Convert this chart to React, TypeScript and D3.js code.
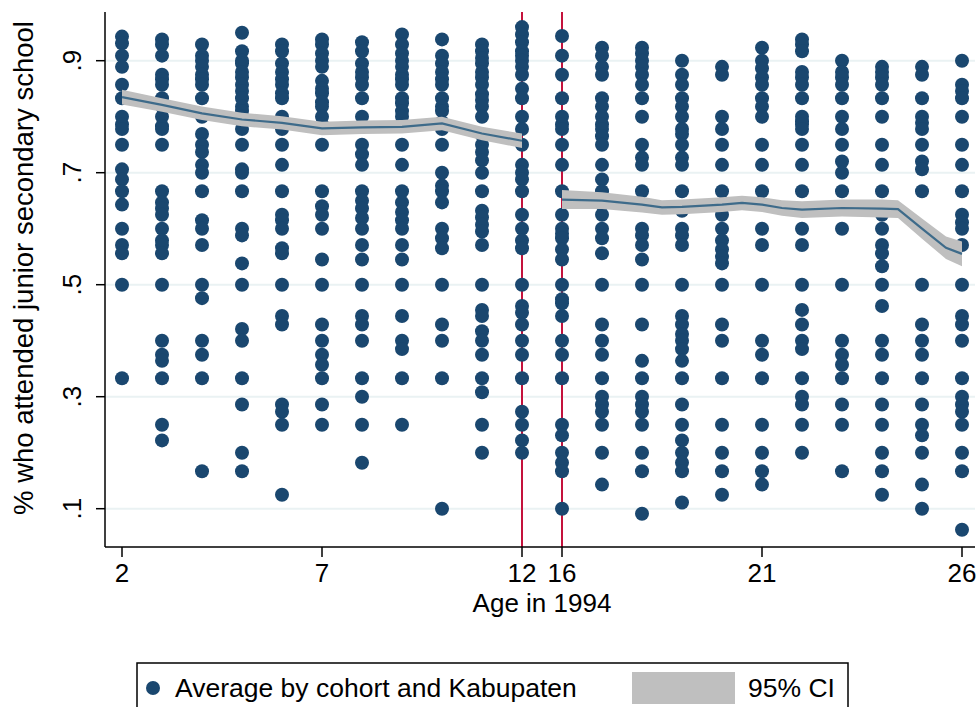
import React from "react";
import * as d3 from "d3";

// ---- Data ----
const ages: number[] = [2, 3, 4, 5, 6, 7, 8, 9, 10, 11, 12, 16, 17, 18, 19, 20, 21, 22, 23, 24, 25, 26];

const c2 = [0.943, 0.931, 0.909, 0.889, 0.857, 0.833, 0.8, 0.786, 0.778, 0.75, 0.706, 0.688, 0.667, 0.643, 0.6, 0.571, 0.556, 0.5, 0.333];
const c3 = [0.938, 0.929, 0.909, 0.875, 0.867, 0.857, 0.833, 0.818, 0.8, 0.783, 0.778, 0.75, 0.667, 0.647, 0.636, 0.625, 0.6, 0.579, 0.571, 0.556, 0.5, 0.4, 0.375, 0.364, 0.333, 0.25, 0.222];
const c4 = [0.929, 0.909, 0.9, 0.889, 0.875, 0.867, 0.857, 0.833, 0.8, 0.769, 0.75, 0.737, 0.714, 0.7, 0.667, 0.615, 0.6, 0.571, 0.5, 0.476, 0.4, 0.375, 0.333, 0.167];
const c5 = [0.95, 0.917, 0.9, 0.895, 0.88, 0.87, 0.857, 0.846, 0.833, 0.818, 0.81, 0.8, 0.778, 0.75, 0.706, 0.7, 0.667, 0.6, 0.588, 0.538, 0.5, 0.421, 0.4, 0.333, 0.286, 0.2, 0.167];
const c6 = [0.929, 0.917, 0.895, 0.88, 0.867, 0.857, 0.842, 0.833, 0.8, 0.789, 0.778, 0.75, 0.714, 0.667, 0.625, 0.615, 0.6, 0.565, 0.556, 0.5, 0.444, 0.429, 0.286, 0.273, 0.25, 0.125];
const c7 = [0.938, 0.929, 0.913, 0.9, 0.889, 0.864, 0.85, 0.842, 0.826, 0.818, 0.8, 0.786, 0.75, 0.667, 0.64, 0.625, 0.6, 0.545, 0.5, 0.429, 0.4, 0.375, 0.357, 0.333, 0.286, 0.25];
const c8 = [0.933, 0.917, 0.895, 0.88, 0.87, 0.857, 0.833, 0.8, 0.75, 0.733, 0.714, 0.667, 0.65, 0.636, 0.619, 0.6, 0.571, 0.545, 0.5, 0.444, 0.429, 0.4, 0.333, 0.3, 0.25, 0.182];
const c9 = [0.947, 0.929, 0.913, 0.9, 0.889, 0.875, 0.867, 0.857, 0.833, 0.824, 0.81, 0.8, 0.786, 0.75, 0.714, 0.667, 0.647, 0.63, 0.615, 0.6, 0.571, 0.545, 0.5, 0.444, 0.4, 0.385, 0.333, 0.25];
const c10 = [0.938, 0.909, 0.895, 0.88, 0.867, 0.857, 0.833, 0.818, 0.81, 0.79, 0.778, 0.75, 0.7, 0.677, 0.667, 0.647, 0.6, 0.583, 0.565, 0.5, 0.429, 0.4, 0.333, 0.1];
const c11 = [0.929, 0.917, 0.905, 0.895, 0.88, 0.87, 0.857, 0.84, 0.83, 0.818, 0.8, 0.767, 0.75, 0.737, 0.722, 0.7, 0.667, 0.632, 0.62, 0.607, 0.595, 0.571, 0.5, 0.455, 0.444, 0.417, 0.4, 0.375, 0.333, 0.308, 0.25, 0.2];
const c12 = [0.96, 0.947, 0.933, 0.917, 0.909, 0.9, 0.889, 0.875, 0.85, 0.833, 0.8, 0.778, 0.75, 0.714, 0.7, 0.688, 0.667, 0.625, 0.6, 0.579, 0.565, 0.5, 0.462, 0.45, 0.429, 0.4, 0.375, 0.333, 0.273, 0.25, 0.222, 0.2];
const c16 = [0.944, 0.909, 0.875, 0.833, 0.8, 0.786, 0.778, 0.75, 0.714, 0.667, 0.625, 0.6, 0.591, 0.583, 0.563, 0.545, 0.5, 0.474, 0.467, 0.444, 0.4, 0.375, 0.333, 0.25, 0.231, 0.2, 0.182, 0.167, 0.1];
const c17 = [0.923, 0.909, 0.889, 0.875, 0.833, 0.818, 0.8, 0.786, 0.778, 0.765, 0.75, 0.714, 0.688, 0.667, 0.643, 0.625, 0.6, 0.583, 0.556, 0.5, 0.429, 0.4, 0.375, 0.333, 0.3, 0.286, 0.273, 0.25, 0.2, 0.143];
const c18 = [0.923, 0.913, 0.9, 0.889, 0.875, 0.857, 0.833, 0.8, 0.75, 0.727, 0.714, 0.667, 0.6, 0.588, 0.571, 0.545, 0.5, 0.429, 0.364, 0.333, 0.3, 0.286, 0.273, 0.25, 0.2, 0.167, 0.091];
const c19 = [0.9, 0.875, 0.857, 0.833, 0.818, 0.8, 0.778, 0.769, 0.75, 0.727, 0.714, 0.667, 0.632, 0.6, 0.588, 0.571, 0.5, 0.444, 0.429, 0.412, 0.4, 0.385, 0.364, 0.333, 0.286, 0.25, 0.222, 0.2, 0.182, 0.167, 0.111];
const c20 = [0.889, 0.875, 0.8, 0.778, 0.75, 0.714, 0.667, 0.64, 0.625, 0.6, 0.579, 0.563, 0.55, 0.538, 0.5, 0.429, 0.4, 0.333, 0.25, 0.2, 0.167, 0.125];
const c21 = [0.923, 0.9, 0.886, 0.87, 0.857, 0.833, 0.818, 0.8, 0.75, 0.714, 0.667, 0.6, 0.571, 0.5, 0.4, 0.375, 0.333, 0.25, 0.2, 0.167, 0.143];
const c22 = [0.938, 0.929, 0.917, 0.88, 0.87, 0.857, 0.833, 0.8, 0.792, 0.786, 0.778, 0.75, 0.714, 0.667, 0.6, 0.571, 0.5, 0.455, 0.429, 0.4, 0.385, 0.333, 0.3, 0.286, 0.25, 0.2];
const c23 = [0.9, 0.88, 0.87, 0.857, 0.833, 0.8, 0.778, 0.75, 0.72, 0.7, 0.667, 0.6, 0.5, 0.4, 0.375, 0.357, 0.333, 0.286, 0.25, 0.167];
const c24 = [0.889, 0.88, 0.87, 0.857, 0.833, 0.8, 0.75, 0.714, 0.667, 0.625, 0.6, 0.571, 0.556, 0.533, 0.5, 0.462, 0.4, 0.375, 0.333, 0.286, 0.25, 0.2, 0.167, 0.125];
const c25 = [0.889, 0.875, 0.833, 0.8, 0.789, 0.778, 0.75, 0.72, 0.706, 0.667, 0.5, 0.429, 0.4, 0.375, 0.333, 0.286, 0.25, 0.231, 0.2, 0.143, 0.1];
const c26 = [0.9, 0.857, 0.846, 0.833, 0.8, 0.75, 0.714, 0.667, 0.625, 0.611, 0.6, 0.571, 0.5, 0.444, 0.429, 0.4, 0.333, 0.3, 0.286, 0.273, 0.25, 0.2, 0.167, 0.0625];

const columns: number[][] = [c2, c3, c4, c5, c6, c7, c8, c9, c10, c11, c12, c16, c17, c18, c19, c20, c21, c22, c23, c24, c25, c26];

// Local fit (below the cutoff)
const fitLeftAge = [2, 3, 4, 5, 6, 7, 8, 9, 10, 11, 12];
const fitLeftVal = [0.835, 0.821, 0.806, 0.795, 0.789, 0.779, 0.781, 0.782, 0.788, 0.77, 0.757];
const fitLeftHw = [0.013, 0.012, 0.012, 0.012, 0.012, 0.012, 0.012, 0.012, 0.012, 0.012, 0.013];
// Local fit (above the cutoff)
const fitRightAge = [16, 17, 18, 18.5, 19, 20, 20.5, 21, 21.5, 22, 23, 24, 24.4, 25, 25.6, 26];
const fitRightVal = [0.652, 0.65, 0.643, 0.638, 0.639, 0.643, 0.646, 0.643, 0.637, 0.634, 0.637, 0.636, 0.635, 0.6, 0.566, 0.555];
const fitRightHw = [0.017, 0.015, 0.014, 0.013, 0.013, 0.013, 0.013, 0.013, 0.014, 0.015, 0.015, 0.016, 0.016, 0.018, 0.02, 0.022];

const yTicks = [0.1, 0.3, 0.5, 0.7, 0.9];
const yTickLabels = [".1", ".3", ".5", ".7", ".9"];
const xTicks = [2, 7, 12, 16, 21, 26];
const cutoffs = [12, 16];

const FONT = "'Liberation Sans', Arial, Helvetica, sans-serif";
const DOT = "#1a476f";
const BAND = "#bfbfbf";
const FITLINE = "#3e6b8a";
const RED = "#c4123c";
const GRID = "#eaf2f3";

// map age to axis position (gap between 12 and 16 collapsed)
const pos = (a: number) => (a <= 12 ? a : a - 3);

export default function App() {
  const left = 105, right = 975, top = 12, bottom = 547;
  const x = d3.scaleLinear().domain([2, 23]).range([122, 962]);
  const y = d3.scaleLinear().domain([0.1, 0.9]).range([508.7, 60.7]);
  const X = (a: number) => x(pos(a));

  const mk = (ag: number[], v: number[], hw: number[]) =>
    ag.map((a, i) => ({ a, v: v[i], lo: v[i] - hw[i], hi: v[i] + hw[i] }));
  const segs = [mk(fitLeftAge, fitLeftVal, fitLeftHw), mk(fitRightAge, fitRightVal, fitRightHw)];
  const area = d3.area<any>().x((d) => X(d.a)).y0((d) => y(d.lo)).y1((d) => y(d.hi));
  const line = d3.line<any>().x((d) => X(d.a)).y((d) => y(d.v));

  return (
    <svg width={979} height={707} style={{ position: "absolute", left: 0, top: 0, background: "#fff" }} fontFamily={FONT}>
      <rect x={0} y={0} width={979} height={707} fill="#fff" />
      {/* gridlines */}
      {yTicks.map((t) => (
        <line key={"g" + t} x1={left} x2={right} y1={y(t)} y2={y(t)} stroke={GRID} strokeWidth={2} />
      ))}
      {/* cutoff lines */}
      {cutoffs.map((c) => (
        <line key={"c" + c} x1={X(c)} x2={X(c)} y1={top} y2={bottom} stroke={RED} strokeWidth={2} />
      ))}
      {/* scatter */}
      {columns.map((col, i) =>
        col.map((v, j) => <circle key={i + "-" + j} cx={X(ages[i])} cy={y(v)} r={7} fill={DOT} />)
      )}
      {/* CI bands and fit */}
      {segs.map((s, i) => (
        <g key={"s" + i}>
          <path d={area(s) || ""} fill={BAND} />
          <path d={line(s) || ""} fill="none" stroke={FITLINE} strokeWidth={2.2} />
        </g>
      ))}
      {/* axes */}
      <line x1={left} x2={left} y1={top} y2={bottom} stroke="#000" strokeWidth={1.5} />
      <line x1={left} x2={right} y1={bottom} y2={bottom} stroke="#000" strokeWidth={1.5} />
      {yTicks.map((t, i) => (
        <g key={"yt" + t}>
          <line x1={left - 9} x2={left} y1={y(t)} y2={y(t)} stroke="#000" strokeWidth={1.5} />
          <text
            transform={`translate(${81},${y(t)}) rotate(-90)`}
            textAnchor="middle"
            fontSize={26}
            fill="#000"
          >
            {yTickLabels[i]}
          </text>
        </g>
      ))}
      {xTicks.map((t) => (
        <g key={"xt" + t}>
          <line x1={X(t)} x2={X(t)} y1={bottom} y2={bottom + 10} stroke="#000" strokeWidth={1.5} />
          <text x={X(t)} y={582} textAnchor="middle" fontSize={26} fill="#000">
            {String(t)}
          </text>
        </g>
      ))}
      <text x={542} y={612} textAnchor="middle" fontSize={26} fill="#000">
        Age in 1994
      </text>
      <text transform={`translate(33,268) rotate(-90)`} textAnchor="middle" fontSize={27.5} fill="#000">
        % who attended junior secondary school
      </text>
      {/* legend */}
      <rect x={137} y={663} width={711} height={60} fill="#fff" stroke="#000" strokeWidth={1.5} />
      <circle cx={153} cy={688} r={7} fill={DOT} />
      <text x={175} y={697} fontSize={26.5} fill="#000">
        Average by cohort and Kabupaten
      </text>
      <rect x={632} y={672} width={103} height={32} fill={BAND} />
      <text x={748} y={697} fontSize={26.5} fill="#000">
        95% CI
      </text>
    </svg>
  );
}
